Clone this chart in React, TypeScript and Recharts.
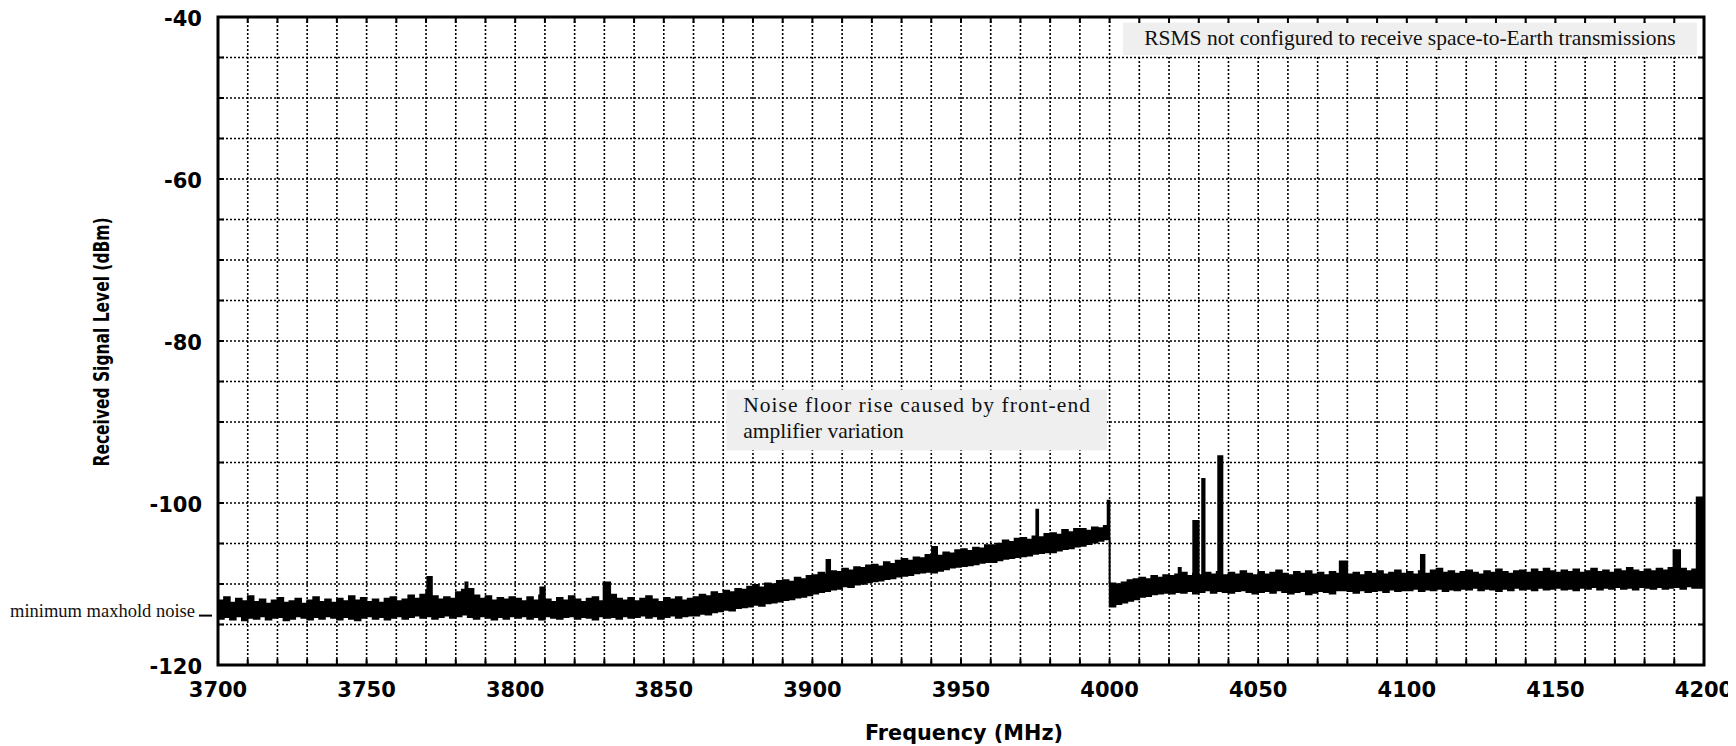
import React from "react";
import {
  AreaChart,
  Area,
  XAxis,
  YAxis,
  CartesianGrid,
  ReferenceArea,
  ReferenceDot,
} from "recharts";

// Max-hold sweep, 2 MHz bins: upper / lower edge of the trace (dBm)
const F_STEP = 2;

const hi3700 = [
  -112.0, -111.6, -112.3, -111.8, -112.1, -111.5, -112.2, -111.9, -112.4, -112.0,
  -111.7, -112.3, -112.1, -111.8, -112.4, -112.0, -111.6, -112.2, -111.9, -112.3,
  -111.8, -112.1, -111.5, -112.0, -111.7, -112.2, -111.9, -112.3, -111.8, -111.6,
  -112.1, -111.9, -111.4, -111.8, -111.3, -110.9, -111.5, -111.9, -111.6, -111.8,
  -111.0, -110.7, -110.6, -111.4, -111.8, -111.5, -112.0, -111.7, -111.9, -111.6,
];
const lo3700 = [
  -114.3, -114.1, -114.4, -114.0, -114.5, -114.2, -114.3, -114.0, -114.4, -114.2,
  -114.1, -114.5, -114.3, -114.0, -114.2, -114.4, -114.1, -114.3, -114.0, -114.2,
  -114.4, -114.1, -114.3, -114.5, -114.2, -114.0, -114.3, -114.1, -114.4, -114.2,
  -114.0, -114.3, -114.1, -113.9, -114.2, -114.0, -114.3, -114.1, -113.9, -114.2,
  -114.0, -113.8, -114.1, -114.3, -114.0, -114.2, -114.4, -114.1, -114.3, -114.0,
];

const hi3800 = [
  -111.8, -112.1, -111.6, -112.0, -111.4, -111.9, -112.2, -111.7, -112.0, -111.5,
  -111.9, -112.2, -111.8, -111.6, -112.1, -111.9, -111.3, -111.8, -112.0, -111.7,
  -112.1, -111.8, -111.5, -111.9, -112.2, -111.7, -111.9, -111.6, -112.0, -111.8,
  -111.6, -111.3, -111.5, -111.0, -111.2, -110.8, -111.0, -110.6, -110.7, -110.3,
  -110.1, -110.4, -109.9, -110.0, -109.6, -109.5, -109.7, -109.2, -109.4, -109.0,
];
const lo3800 = [
  -114.2, -114.0, -114.3, -114.1, -114.4, -114.0, -114.2, -114.3, -114.1, -114.0,
  -114.3, -114.1, -114.2, -114.4, -114.0, -114.2, -114.1, -114.3, -114.0, -114.2,
  -114.1, -113.9, -114.2, -114.0, -114.3, -114.1, -113.9, -114.2, -114.0, -113.9,
  -113.9, -113.7, -113.8, -113.5, -113.4, -113.2, -113.3, -113.0, -112.9, -112.8,
  -112.6, -112.7, -112.4, -112.3, -112.2, -112.0, -111.9, -111.7, -111.6, -111.4,
];

const hi3900 = [
  -108.9, -108.6, -108.8, -108.4, -108.5, -108.1, -108.3, -107.9, -108.0, -107.7,
  -107.6, -107.8, -107.3, -107.5, -107.1, -106.9, -107.1, -106.7, -106.8, -106.4,
  -106.3, -106.5, -106.1, -106.2, -105.8, -105.7, -105.9, -105.5, -105.6, -105.2,
  -105.2, -105.0, -104.6, -104.8, -104.4, -104.3, -104.5, -104.1, -104.2, -103.8,
  -103.7, -103.9, -103.3, -103.6, -103.2, -103.2, -103.4, -103.0, -103.1, -102.8,
];
const lo3900 = [
  -111.2, -111.0, -110.9, -110.7, -110.6, -110.3, -110.4, -110.1, -110.0, -109.8,
  -109.7, -109.6, -109.4, -109.3, -109.1, -109.0, -108.9, -108.7, -108.6, -108.5,
  -108.6, -108.4, -108.2, -108.0, -107.9, -107.8, -107.7, -107.6, -107.4, -107.3,
  -107.3, -107.1, -106.9, -106.8, -106.7, -106.6, -106.5, -106.3, -106.2, -106.1,
  -106.1, -105.9, -105.7, -105.6, -105.4, -105.3, -105.1, -104.9, -104.7, -104.5,
];

const hi4000 = [
  -109.9, -110.0, -109.8, -109.5, -109.4, -109.2, -109.4, -109.0, -109.2, -108.9,
  -109.0, -108.8, -108.6, -109.0, -108.7, -108.9, -108.6, -108.8, -108.5, -108.9,
  -108.6, -108.8, -108.4, -108.7, -108.9, -108.5, -108.8, -108.6, -108.3, -108.7,
  -108.9, -108.5, -108.7, -108.4, -108.8, -108.6, -108.9, -108.5, -108.7, -108.4,
  -108.8, -108.6, -108.9, -108.5, -108.7, -108.4, -108.8, -108.6, -108.3, -108.7,
];
const lo4000 = [
  -112.8, -112.5, -112.3, -112.1, -111.9, -111.6, -111.5, -111.3, -111.2, -111.1,
  -111.2, -111.0, -111.1, -110.9, -111.2, -111.0, -110.8, -111.1, -110.9, -111.0,
  -111.1, -110.9, -110.8, -111.0, -111.2, -111.0, -110.9, -111.1, -110.8, -111.0,
  -111.2, -111.0, -110.9, -111.3, -111.1, -110.9, -111.0, -111.2, -110.8, -111.0,
  -110.9, -111.1, -110.8, -111.0, -110.9, -110.8, -111.0, -110.7, -110.9, -110.8,
];

const hi4100 = [
  -108.5, -108.8, -108.4, -108.7, -108.3, -108.1, -108.6, -108.4, -108.7, -108.5,
  -108.3, -108.6, -108.8, -108.4, -108.6, -108.2, -108.5, -108.7, -108.4, -108.3,
  -108.6, -108.2, -108.5, -108.1, -108.4, -108.6, -108.3, -108.5, -108.2, -108.6,
  -108.4, -108.1, -108.5, -108.3, -108.6, -108.2, -108.4, -108.0, -108.3, -108.5,
  -108.2, -108.4, -108.1, -108.3, -108.0, -108.3, -108.1, -108.4, -108.2, -108.0,
  -108.3,
];
const lo4100 = [
  -110.8, -110.6, -110.9, -110.7, -110.8, -110.6, -110.9, -110.7, -110.8, -110.6,
  -110.7, -110.5, -110.8, -110.6, -110.7, -110.9, -110.6, -110.8, -110.5, -110.7,
  -110.6, -110.8, -110.5, -110.7, -110.6, -110.5, -110.7, -110.6, -110.8, -110.5,
  -110.6, -110.4, -110.7, -110.5, -110.6, -110.4, -110.6, -110.5, -110.7, -110.4,
  -110.5, -110.6, -110.4, -110.6, -110.5, -110.4, -110.6, -110.3, -110.5, -110.4,
  -110.5,
];

// Narrow carriers: [frequency MHz, peak dBm]
const spikes: [number, number][] = [
  [3770.7, -109.1],
  [3783.5, -109.8],
  [3808.7, -110.4],
  [3830.0, -109.8],
  [3905.0, -107.0],
  [3940.5, -105.4],
  [3975.6, -100.8],
  [3999.6, -99.7],
  [4023.5, -108.0],
  [4028.4, -102.2],
  [4031.4, -97.0],
  [4036.8, -94.2],
  [4077.7, -107.2],
  [4105.0, -106.4],
  [4190.0, -105.8],
  [4197.8, -99.3],
];

const MIN_MAXHOLD_NOISE = -113.9;

const xLabels = [3700, 3750, 3800, 3850, 3900, 3950, 4000, 4050, 4100, 4150, 4200];
const yLabels = [-120, -100, -80, -60, -40];

const xTicks: number[] = [];
for (let f = 3700; f <= 4200; f += 10) xTicks.push(f);
const yTicks: number[] = [];
for (let v = -120; v <= -40; v += 5) yTicks.push(v);

const segments = [
  { start: 3700, hi: hi3700, lo: lo3700 },
  { start: 3800, hi: hi3800, lo: lo3800 },
  { start: 3900, hi: hi3900, lo: lo3900 },
  { start: 4000, hi: hi4000, lo: lo4000 },
  { start: 4100, hi: hi4100, lo: lo4100 },
];

const binned = segments.flatMap((s) =>
  s.hi.map((h, i) => ({ f: s.start + i * F_STEP, hi: h, lo: s.lo[i] }))
);

// each carrier: a 0.6 MHz wide sample pair sitting on the floor of the bin below it
const spikePoints = spikes.flatMap(([f, peak]) => {
  const below = binned.filter((p) => p.f <= f);
  const lo = below[below.length - 1].lo;
  return [
    { f: f - 0.3, hi: peak, lo },
    { f: f + 0.3, hi: peak, lo },
  ];
});

const traceData = [
  ...binned.filter((p) => !spikes.some(([f]) => Math.abs(p.f - f) < 0.35)),
  ...spikePoints,
]
  .sort((a, b) => a.f - b.f)
  .map((p) => ({ f: p.f, band: [p.lo, p.hi] }));

// layout
const CHART_W = 1728;
const CHART_H = 738;
const Y_AXIS_W = 60;
const X_AXIS_H = 40;
const MARGIN = { top: 9, right: 32, bottom: 41, left: 150 };
const PLOT_LEFT = MARGIN.left + Y_AXIS_W;
const PLOT_RIGHT = CHART_W - MARGIN.right;
const PLOT_TOP = MARGIN.top;
const PLOT_BOTTOM = CHART_H - MARGIN.bottom - X_AXIS_H;

const tickFont: React.CSSProperties = {
  fontFamily: "'DejaVu Sans', sans-serif",
  fontWeight: "bold",
  fontSize: 21,
};
const noteFont: React.CSSProperties = {
  fontFamily: "'Liberation Serif', 'Times New Roman', serif",
  fontSize: 21.5,
};

const XTick = (props: any) => {
  const { x, payload } = props;
  const v = payload.value as number;
  return (
    <g>
      <line x1={x} x2={x} y1={PLOT_BOTTOM} y2={PLOT_BOTTOM - 6} stroke="#000" strokeWidth={2} />
      <line x1={x} x2={x} y1={PLOT_TOP} y2={PLOT_TOP + 6} stroke="#000" strokeWidth={2} />
      {xLabels.includes(v) && (
        <text x={x} y={PLOT_BOTTOM + 32} textAnchor="middle" fill="#000" style={tickFont}>
          {v}
        </text>
      )}
    </g>
  );
};

const YTick = (props: any) => {
  const { y, payload } = props;
  const v = payload.value as number;
  return (
    <g>
      <line x1={PLOT_LEFT} x2={PLOT_LEFT + 6} y1={y} y2={y} stroke="#000" strokeWidth={2} />
      <line x1={PLOT_RIGHT} x2={PLOT_RIGHT - 6} y1={y} y2={y} stroke="#000" strokeWidth={2} />
      {yLabels.includes(v) && (
        <text x={PLOT_LEFT - 16} y={y + 8.5} textAnchor="end" fill="#000" style={tickFont}>
          {v}
        </text>
      )}
    </g>
  );
};

const yTitle = () => (
  <text
    x={93}
    y={334}
    transform="rotate(-90 93 334)"
    textAnchor="middle"
    dy="0.36em"
    textLength={249}
    lengthAdjust="spacingAndGlyphs"
    fill="#000"
    style={{ ...tickFont, fontSize: 22 }}
  >
    Received Signal Level (dBm)
  </text>
);

const xTitle = () => (
  <text
    x={956}
    y={724}
    textAnchor="middle"
    dy="0.36em"
    textLength={198}
    lengthAdjust="spacingAndGlyphs"
    fill="#000"
    style={{ ...tickFont, fontSize: 22 }}
  >
    Frequency (MHz)
  </text>
);

const RsmsNote = (p: any) => (
  <g>
    <rect x={p.x} y={p.y} width={p.width} height={p.height} fill="#efefef" />
    <text x={p.x + p.width / 2} y={p.y + p.height / 2 + 6} textAnchor="middle" fill="#111" style={noteFont}>
      RSMS not configured to receive space-to-Earth transmissions
    </text>
  </g>
);

const AmpNote = (p: any) => (
  <g>
    <rect x={p.x} y={p.y} width={p.width} height={p.height} fill="#efefef" />
    <text
      x={p.x + 17}
      y={p.y + 22}
      textLength={p.width - 34}
      lengthAdjust="spacing"
      fill="#111"
      style={noteFont}
    >
      Noise floor rise caused by front-end
    </text>
    <text x={p.x + 17} y={p.y + 48} fill="#111" style={noteFont}>
      amplifier variation
    </text>
  </g>
);

const NoiseMarker = (p: any) => (
  <g>
    <line x1={p.cx - 19} x2={p.cx - 6} y1={p.cy} y2={p.cy} stroke="#000" strokeWidth={2} />
    <text
      x={p.cx - 23}
      y={p.cy + 1.5}
      textAnchor="end"
      fill="#111"
      style={{ ...noteFont, fontSize: 18.5 }}
    >
      minimum maxhold noise
    </text>
  </g>
);

export default function App() {
  return (
    <div style={{ width: CHART_W, height: CHART_H, background: "#fff" }}>
      <AreaChart width={CHART_W} height={CHART_H} data={traceData} margin={MARGIN}>
        <CartesianGrid stroke="#000" strokeWidth={1.6} strokeDasharray="2 2" />
        <XAxis
          type="number"
          dataKey="f"
          domain={[3700, 4200]}
          ticks={xTicks}
          interval={0}
          allowDataOverflow
          axisLine={false}
          tickLine={false}
          height={X_AXIS_H}
          tick={<XTick />}
          label={xTitle}
        />
        <YAxis
          type="number"
          domain={[-120, -40]}
          ticks={yTicks}
          interval={0}
          allowDataOverflow
          axisLine={false}
          tickLine={false}
          width={Y_AXIS_W}
          tick={<YTick />}
          label={yTitle}
        />
        <ReferenceArea x1={4004.5} x2={4197.6} y1={-44.7} y2={-40.7} shape={<RsmsNote />} />
        <ReferenceArea x1={3871} x2={3999.1} y1={-93.5} y2={-86} shape={<AmpNote />} />
        <Area
          type="stepAfter"
          dataKey="band"
          stroke="#000"
          strokeWidth={1.6}
          fill="#000"
          fillOpacity={1}
          dot={false}
          activeDot={false}
          isAnimationActive={false}
        />
        <ReferenceArea
          x1={3700}
          x2={4200}
          y1={-120}
          y2={-40}
          fill="none"
          stroke="#000"
          strokeWidth={3}
        />
        <ReferenceDot x={3700} y={MIN_MAXHOLD_NOISE} shape={<NoiseMarker />} />
      </AreaChart>
    </div>
  );
}
